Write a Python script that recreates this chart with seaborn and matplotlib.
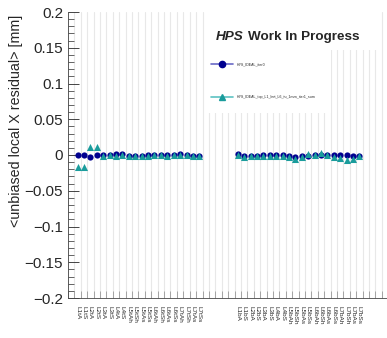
import numpy as np
import pandas as pd
import matplotlib
matplotlib.use("Agg")
import matplotlib.pyplot as plt
import seaborn as sns
from matplotlib.patches import Rectangle
from matplotlib.ticker import MultipleLocator, FixedLocator

# Sensor names (top and bottom halves)
labels_top = ["L1tA", "L1tS", "L2tA", "L2tS", "L3tA", "L3tS", "L4tA", "L4tS",
              "L5tAh", "L5tSh", "L5tAs", "L5tSs", "L6tAh", "L6tSh", "L6tAs", "L6tSs",
              "L7tAh", "L7tSh", "L7tAs", "L7tSs"]
labels_bot = ["L1bA", "L1bS", "L2bA", "L2bS", "L3bA", "L3bS", "L4bA", "L4bS",
              "L5bAh", "L5bSh", "L5bAs", "L5bSs", "L6bAh", "L6bSh", "L6bAs", "L6bSs",
              "L7bAh", "L7bSh", "L7bAs", "L7bSs"]

# Mean unbiased local X residuals [mm]
iter0_top = [0.0, 0.0, -0.0023, -0.0005, -0.0005, 0.0, 0.0009, 0.0009, -0.0014, -0.0014,
             -0.0009, 0.0, 0.0005, 0.0005, 0.0, 0.0, 0.0009, 0.0005, -0.0014, -0.0014]
iter1_top = [-0.0163, -0.0163, 0.0117, 0.0117, -0.0019, -0.0005, -0.0009, -0.0005, -0.0019, -0.0019,
             -0.0009, -0.0009, -0.0005, -0.0005, -0.0009, -0.0005, -0.0005, -0.0005, -0.0014, -0.0014]
iter0_bot = [0.0009, -0.0014, -0.0009, -0.0009, -0.0005, -0.0005, -0.0005, -0.0005, -0.0014, -0.0023,
             -0.0019, -0.0009, 0.0005, 0.0005, 0.0005, -0.0005, 0.0, -0.0005, -0.0009, -0.0009]
iter1_bot = [0.0, -0.0033, -0.0019, -0.0009, -0.0009, -0.0009, -0.0009, -0.0009, -0.0023, -0.0051,
             -0.0033, 0.0019, 0.0005, 0.0033, 0.0005, -0.0023, -0.0047, -0.0070, -0.0060, -0.0014]

series_names = ["HPS_IDEAL_iter0", "HPS_IDEAL_top_L1_bot_L6_tu_1mm_iter1_sum"]
y_tick_values = [-0.2, -0.15, -0.1, -0.05, 0.0, 0.05, 0.1, 0.15, 0.2]
y_tick_labels = ["\u22120.2", "\u22120.15", "\u22120.1", "\u22120.05", "0", "0.05", "0.1", "0.15", "0.2"]

# Histogram bins: one empty bin, top sensors, a gap, bottom sensors, trailing bins
bin_labels = [""] + labels_top + [""] * 5 + labels_bot + [""] * 4
bin_index = {lab: i for i, lab in enumerate(bin_labels) if lab}

df = pd.DataFrame({
    "sensor": labels_top + labels_bot,
    "iter0": iter0_top + iter0_bot,
    "iter1": iter1_top + iter1_bot,
})
df["bin"] = df["sensor"].map(bin_index)

sns.set_theme(style="white")
plt.rcParams["font.family"] = ["Liberation Sans", "DejaVu Sans"]

col0 = "#00008f"
col1 = "#1a9c9c"

fig = plt.figure(figsize=(3.87, 3.38), dpi=100)
ax = fig.add_axes([68 / 387, 40 / 338, 319 / 387, 286 / 338])

sns.scatterplot(data=df, x="bin", y="iter0", marker="o", s=20, color=col0,
                edgecolor=col0, linewidth=0, ax=ax, zorder=3, legend=False)
sns.scatterplot(data=df, x="bin", y="iter1", marker="^", s=26, color=col1,
                edgecolor=col1, linewidth=0, ax=ax, zorder=4, legend=False)

ax.set_xlim(-0.5, 49.3)
ax.set_ylim(-0.2, 0.2)

# x axis: labels at bin centres, grid and ticks at bin edges
ax.xaxis.set_major_locator(FixedLocator(np.arange(len(bin_labels))))
ax.set_xticklabels(bin_labels, rotation=270, fontsize=4.6, ha="center", va="top")
ax.xaxis.set_minor_locator(FixedLocator(np.arange(-0.5, len(bin_labels), 1.0)))
ax.tick_params(axis="x", which="major", length=0, pad=6)
ax.tick_params(axis="x", which="minor", direction="in", length=5, width=0.5,
               color="#888888", bottom=True, top=False)
ax.grid(which="minor", axis="x", color="#e8e8e8", lw=0.8)
ax.set_xlabel("")

# y axis
ax.set_yticks(y_tick_values)
ax.set_yticklabels(y_tick_labels)
ax.yaxis.set_minor_locator(MultipleLocator(0.01))
ax.tick_params(axis="y", which="major", direction="in", length=8, width=0.6,
               labelsize=11, pad=3.5, left=True, right=False)
ax.tick_params(axis="y", which="minor", direction="in", length=4, width=0.5,
               left=True, right=False)
ax.set_ylabel("<unbiased local X residual> [mm]", fontsize=10.3)
ax.yaxis.set_label_coords(-0.14, 0.62)

for side in ["top", "right"]:
    ax.spines[side].set_visible(False)
for side in ["left", "bottom"]:
    ax.spines[side].set_color("#444444")
    ax.spines[side].set_linewidth(0.6)

# Title pave and legend box
ax.add_patch(Rectangle((0.437, 0.867), 0.535, 0.14, transform=ax.transAxes,
                       facecolor="white", edgecolor="none", zorder=1, clip_on=False))
ax.add_patch(Rectangle((0.437, 0.647), 0.387, 0.22, transform=ax.transAxes,
                       facecolor="white", edgecolor="none", zorder=1))
ax.text(0.462, 0.913, "HPS", transform=ax.transAxes, fontsize=9.7,
        fontweight="bold", style="italic", va="center", ha="left", zorder=5)
ax.text(0.564, 0.913, "Work In Progress", transform=ax.transAxes, fontsize=9.7,
        fontweight="bold", va="center", ha="left", zorder=5)

legend_rows = [(0.818, col0, "#6a6ac6", "o", series_names[0]),
               (0.703, col1, "#5cc2c2", "^", series_names[1])]
for yy, mcol, lcol, mk, name in legend_rows:
    ax.plot([0.448, 0.517], [yy, yy], transform=ax.transAxes, color=lcol,
            lw=1.2, zorder=5)
    ax.plot([0.483], [yy], transform=ax.transAxes, marker=mk, ms=4.5,
            color=mcol, mec=mcol, ls="none", zorder=6)
    ax.text(0.530, yy, name, transform=ax.transAxes, fontsize=2.6,
            va="center", ha="left", zorder=6)

fig.savefig("out.png", dpi=100)
